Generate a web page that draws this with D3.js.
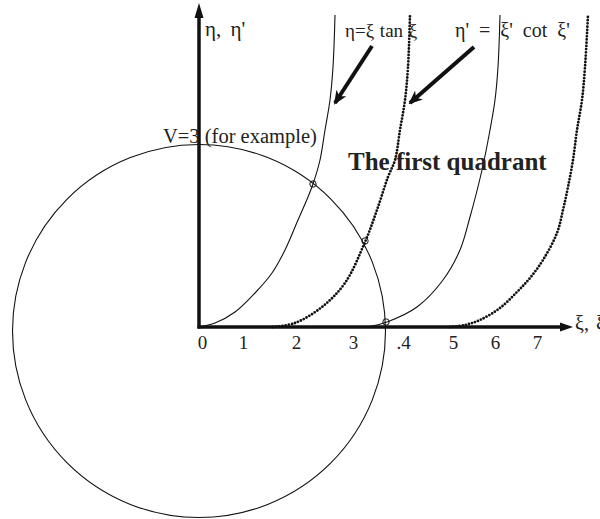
<!DOCTYPE html>
<html>
<head>
<meta charset="utf-8">
<script src="https://cdn.jsdelivr.net/npm/d3@7"></script>
<style>
  body { margin: 0; background: #fff; }
  svg { display: block; font-family: "Liberation Serif", "Times New Roman", serif; }
</style>
</head>
<body>
<svg id="chart" width="600" height="519"></svg>
<script>
// tick labels under the xi axis (positions, in xi units)
const tickPos = [0.06, 0.88, 1.94, 3.08, 4.08, 5.08, 5.92, 6.76];
const tickLabels = ["0", "1", "2", "3", ".4", "5", "6", "7"];

// eta = xi tan xi branches (solid)
const tanBranch1 = [[0, 0], [0.32, 0.08], [0.72, 0.3], [1.12, 0.68], [1.46, 1.08], [1.72, 1.54],
  [1.98, 2.14], [2.18, 2.6], [2.28, 2.86], [2.42, 3.34], [2.52, 3.94], [2.62, 4.54], [2.68, 5.2], [2.72, 6.24]];
const tanBranch2 = [[3.3, 0], [3.46, 0.02], [3.76, 0.1], [4.36, 0.4], [4.88, 0.94], [5.22, 1.54],
  [5.42, 2.2], [5.66, 3.14], [5.82, 3.94], [5.92, 4.54], [5.98, 5.2], [6.02, 6.24]];

// eta' = xi' cot xi' branches (dotted)
const cotBranch1 = [[1.48, 0], [1.92, 0.08], [2.46, 0.4], [2.92, 0.88], [3.32, 1.7], [3.56, 2.34],
  [3.78, 3.0], [3.92, 3.34], [4.02, 3.94], [4.12, 4.54], [4.18, 5.2], [4.22, 6.24]];
const cotBranch2 = [[5.02, 0], [5.32, 0.04], [5.62, 0.14], [6.02, 0.38], [6.36, 0.7], [6.62, 0.98],
  [6.88, 1.34], [7.16, 1.88], [7.28, 2.34], [7.38, 2.8], [7.48, 3.34], [7.56, 3.94], [7.66, 4.54], [7.72, 5.2], [7.78, 6.24]];

// circle xi^2 + eta^2 = V (drawn radius and centre as seen)
const circleCenter = [0, -0.08];
const circleRadius = 3.73;

// intersections marked with small rings
const crossings = [[2.28, 2.86], [3.32, 1.72], [3.74, 0.1]];

// pointer arrows from labels to curves: [from, to]
const pointers = [
  [[3.46, 5.62], [2.72, 4.48]],
  [[5.5, 5.6], [4.22, 4.48]]
];

const axisEnd = [7.48, 6.48];

const svg = d3.select("#chart");

const x = d3.scaleLinear().domain([0, 7.48]).range([199, 573]);
const y = d3.scaleLinear().domain([0, 6.48]).range([327, 3]);

const line = d3.line()
  .x((d) => x(d[0]))
  .y((d) => y(d[1]))
  .curve(d3.curveCatmullRom.alpha(0.5));

// circle
svg.append("circle")
  .attr("cx", x(circleCenter[0]))
  .attr("cy", y(circleCenter[1]))
  .attr("r", x(circleRadius) - x(0))
  .attr("fill", "none")
  .attr("stroke", "#111")
  .attr("stroke-width", 1.1);

// curves
[tanBranch1, tanBranch2].forEach((pts) => {
  svg.append("path")
    .attr("d", line(pts))
    .attr("fill", "none")
    .attr("stroke", "#111")
    .attr("stroke-width", 1.1);
});

[cotBranch1, cotBranch2].forEach((pts) => {
  svg.append("path")
    .attr("d", line(pts))
    .attr("fill", "none")
    .attr("stroke", "#111")
    .attr("stroke-width", 2.8)
    .attr("stroke-linecap", "round")
    .attr("stroke-dasharray", "0,3.2");
});

// axes
svg.append("line")
  .attr("x1", x(0)).attr("y1", y(0) + 1.5)
  .attr("x2", x(0)).attr("y2", y(axisEnd[1]) + 12)
  .attr("stroke", "#111").attr("stroke-width", 3.5);
svg.append("line")
  .attr("x1", x(0) - 1.5).attr("y1", y(0))
  .attr("x2", x(axisEnd[0]) - 10).attr("y2", y(0))
  .attr("stroke", "#111").attr("stroke-width", 3.5);

const tipY = y(axisEnd[1]);
svg.append("path")
  .attr("d", `M${x(0)},${tipY} L${x(0) + 4.5},${tipY + 15} L${x(0) - 4.5},${tipY + 15} Z`)
  .attr("fill", "#111");
const tipX = x(axisEnd[0]);
svg.append("path")
  .attr("d", `M${tipX},${y(0)} L${tipX - 13},${y(0) - 4.5} L${tipX - 13},${y(0) + 4.5} Z`)
  .attr("fill", "#111");

// tick labels via axis
const xAxis = d3.axisBottom(x)
  .tickValues(tickPos)
  .tickFormat((d, i) => tickLabels[i])
  .tickSize(0)
  .tickPadding(8.5);

const gx = svg.append("g")
  .attr("transform", `translate(0,${y(0)})`)
  .call(xAxis);
gx.select(".domain").remove();
gx.selectAll("text")
  .attr("font-family", "Liberation Serif, serif")
  .attr("font-size", 19)
  .attr("fill", "#222");

// intersection rings
svg.selectAll("circle.cross")
  .data(crossings)
  .enter()
  .append("circle")
  .attr("class", "cross")
  .attr("cx", (d) => x(d[0]))
  .attr("cy", (d) => y(d[1]))
  .attr("r", 3.2)
  .attr("fill", "none")
  .attr("stroke", "#111")
  .attr("stroke-width", 1);

// pointer arrows
const defs = svg.append("defs");
defs.append("marker")
  .attr("id", "head")
  .attr("viewBox", "0 -6 14 12")
  .attr("refX", 12)
  .attr("refY", 0)
  .attr("markerWidth", 14)
  .attr("markerHeight", 12)
  .attr("markerUnits", "userSpaceOnUse")
  .attr("orient", "auto")
  .append("path")
  .attr("d", "M14,0 L0,-6 L4,0 L0,6 Z")
  .attr("fill", "#111");

pointers.forEach(([a, b]) => {
  svg.append("line")
    .attr("x1", x(a[0])).attr("y1", y(a[1]))
    .attr("x2", x(b[0])).attr("y2", y(b[1]))
    .attr("stroke", "#111")
    .attr("stroke-width", 4)
    .attr("marker-end", "url(#head)");
});

// labels
const labels = [
  { t: "η, η'", p: [0.12, 5.82], size: 21, weight: "normal", ws: 4 },
  { t: "η=ξ tan ξ", p: [2.92, 5.8], size: 19, weight: "normal", ws: 1 },
  { t: "η' = ξ' cot ξ'", p: [5.12, 5.8], size: 20, weight: "normal", ws: 5 },
  { t: "V=3 (for example)", p: [-0.72, 3.68], size: 20.5, weight: "normal", ws: 0 },
  { t: "The first quadrant", p: [2.98, 3.14], size: 25, weight: "bold", ws: 0 },
  { t: "ξ, ξ'", p: [7.52, -0.06], size: 20, weight: "normal", ws: 2 }
];

svg.selectAll("text.lbl")
  .data(labels)
  .enter()
  .append("text")
  .attr("class", "lbl")
  .attr("x", (d) => x(d.p[0]))
  .attr("y", (d) => y(d.p[1]))
  .attr("font-size", (d) => d.size)
  .attr("font-weight", (d) => d.weight)
  .attr("word-spacing", (d) => d.ws)
  .attr("fill", "#222")
  .text((d) => d.t);
</script>
</body>
</html>
